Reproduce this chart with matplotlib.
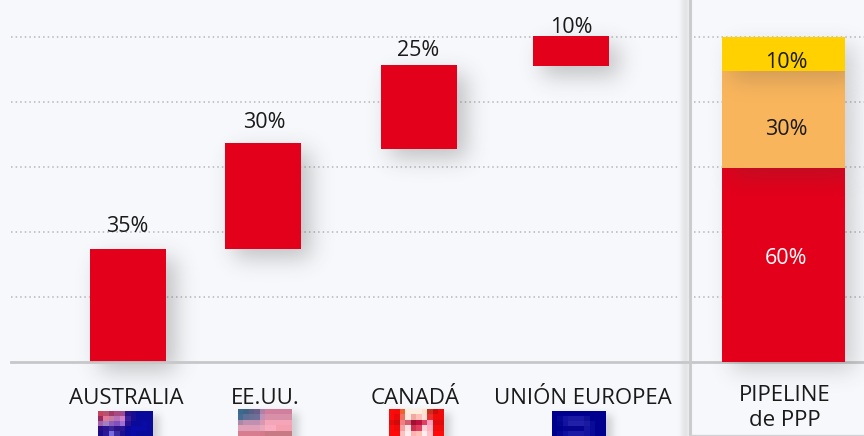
import math
import numpy as np
import matplotlib
matplotlib.use('Agg')
import matplotlib.pyplot as plt

plt.rcParams['font.family'] = ['Open Sans', 'DejaVu Sans']

# valores en % (escala 0-100 del grafico)
categories = ['AUSTRALIA', 'EE.UU.', 'CANADÁ', 'UNIÓN EUROPEA']
bar_labels = ['35%', '30%', '25%', '10%']
bar_bottom = [0, 34.6, 65.5, 91]
bar_top = [34.6, 67.2, 91.3, 100.4]
bar_x = [128, 263, 419, 571]
label_x = [126, 265, 415, 583]
pct_x = [127, 264, 418, 571]
pct_level = [41.6, 73.8, 95.8, 103]

ppp_values = [59.5, 30, 10.4]
ppp_labels = ['60%', '30%', '10%']
ppp_level = [31.6, 71.5, 92.1]
ppp_colors = ['#e3001b', '#f9b55c', '#ffd100']
ppp_text = ['white', '#1a1a1a', '#1a1a1a']
grid_levels = [20, 40, 60, 80, 100]

BG = '#f7f8fb'
RED = '#e3001b'
PX = 3.245  # px por punto de %
ZERO = 361.5

# banderas pixeladas, cortadas por el borde inferior
b = '#0a0a9a'
flag_aus = [['#c8445e', '#b8506e', '#a03a6a', '#a84a80', '#a04a90', '#2a1088', '#1a0c92', b, b, b],
            ['#9a2a5e', '#e07a98', '#c97aa0', '#b870b8', '#d080c8', '#3a2098', '#1a0c92', b, b, b],
            ['#a060b0', '#a080c0', '#8a60b8', '#8050c0', '#9a70d0', '#2a1090', b, b, '#0a0aa8', b],
            ['#2a0c80', '#2a1490', '#3a2498', '#2a1488', '#2a1490', b, '#0a0aa8', '#0a0aa8', '#0a0aa8', b],
            ['#1a0c88', '#2a1a98', '#7a6ae0', '#3a2ca0', '#1a1090', b, '#0a0aa8', b, b, b]]
flag_usa = [['#3a6a90', '#3f6488', '#5a5f8a', '#6a5f8a', '#b080a8', '#d0809c', '#d0809c', '#d0809c', '#d0809c', '#d0809c'],
            ['#456c92', '#5f6f95', '#6a6f98', '#6f7098', '#c090b8', '#d890a8', '#d890a8', '#d890a8', '#d890a8', '#d890a8'],
            ['#a88aa8', '#c090b0', '#c090b0', '#c090b0', '#d898b0', '#f4a6b8', '#f4a6b8', '#f4a6b8', '#f4a6b8', '#f4a6b8'],
            ['#e0a0b8', '#e0a0b8', '#e0a0b8', '#e0a0b8', '#e8a8bc', '#f8aec0', '#f8aec0', '#f4a0b0', '#f4a0b0', '#f4a0b0'],
            ['#d87c90', '#d87c90', '#d87c90', '#d87c90', '#d47a88', '#c87a84', '#c87a84', '#c87a84', '#c87a84', '#c87a84']]
flag_can = [['#ff0a0a', '#f80a0a', '#f06030', '#ffeedd', '#ffeedd', '#ffeedd', '#ffe4cc', '#c83020', '#d00a0a', '#f00a0a'],
            ['#ff0a0a', '#e80a0a', '#f07060', '#ffe8e0', '#f0a8a0', '#ffc0b8', '#ffe0d8', '#e83030', '#f00a0a', '#f00a0a'],
            ['#e80a0a', '#d00a0a', '#f08080', '#d06070', '#a01030', '#c01040', '#e04060', '#f8a0c0', '#e00a0a', '#e00a0a'],
            ['#ff0a0a', '#f00a0a', '#f8a0a0', '#ffe0e0', '#d03050', '#e04060', '#ffd0d8', '#ffb0c0', '#f00a0a', '#f00a0a'],
            ['#ff0a0a', '#ff0a0a', '#ffc0c0', '#ffeef0', '#ffb0b0', '#ffc0b8', '#ffeef0', '#ffc0c8', '#ff0a0a', '#ff0a0a']]
d = '#00008f'
flag_eu = [[d, d, d, d, d, d, d, d, d, d],
           [d, '#080896', '#1414a0', '#1a1aa4', '#1a1aa4', '#1a1aa4', '#101098', d, d, d],
           [d, '#04048f', '#1212a0', '#2020a8', '#2020a8', '#2020a8', '#1a1aa0', '#0a0a98', d, d],
           [d, d, '#040490', '#04048f', '#04048f', '#04048f', '#1414a0', '#0a0a98', d, d],
           [d, '#060692', '#1010a0', '#1a1aa4', '#1a1aa4', '#1a1aa4', '#1414a0', '#0a0a98', d, d]]
flags = [flag_aus, flag_usa, flag_can, flag_eu]
flag_box = [(98, 153, 412), (238, 292, 410), (389, 444, 410), (552, 606, 412)]

erf = np.vectorize(math.erf)


def y_val(px):
    return (ZERO - px) / PX


def shadow(ax, x0, x1, y0, y1, z, dx=9, dy=9, s=11, alpha=0.3):
    # sombra difusa de un rectangulo, todo en px
    xs = np.arange(x0 - 40, x1 + 60)
    ys = np.arange(y0 - 40, y1 + 60)
    fx = 0.5 * (erf((xs - x0 - dx) / (s * 1.41)) - erf((xs - x1 - dx) / (s * 1.41)))
    fy = 0.5 * (erf((ys - y0 - dy) / (s * 1.41)) - erf((ys - y1 - dy) / (s * 1.41)))
    a = np.outer(fy, fx) * alpha
    img = np.zeros(a.shape + (4,))
    img[..., :3] = 0.25
    img[..., 3] = a
    ax.imshow(img, extent=(xs[0], xs[-1] + 1, y_val(ys[-1] + 1), y_val(ys[0])),
              aspect='auto', zorder=z, interpolation='bilinear')


fig = plt.figure(figsize=(8.64, 4.36), dpi=100, facecolor=BG)
ax = fig.add_axes([0, 0, 1, 1], facecolor=BG)

# rejilla
for lv in grid_levels:
    ax.plot([11, 680], [lv, lv], color='#b5b7ba', lw=1.1, ls=(0, (1, 2)), zorder=1)
    ax.plot([694, 864], [lv, lv], color='#b5b7ba', lw=1.1, ls=(0, (1, 2)), zorder=1)

# barras escalonadas
for i in range(len(categories)):
    px_top = ZERO - bar_top[i] * PX
    px_bot = ZERO - bar_bottom[i] * PX
    shadow(ax, bar_x[i] - 38, bar_x[i] + 38, px_top, px_bot, 2)
    ax.bar(bar_x[i], bar_top[i] - bar_bottom[i], 76, bottom=bar_bottom[i], color=RED, zorder=3)
    ax.text(pct_x[i], pct_level[i], bar_labels[i], ha='center', va='center',
            fontsize=15.5, color='#1a1a1a', zorder=6)
    ax.text(label_x[i], y_val(398), categories[i], ha='center', va='center',
            fontsize=16, color='#1a1a1a', zorder=6)

# columna apilada PPP
base = 0
for i in range(len(ppp_values)):
    top = base + ppp_values[i]
    shadow(ax, 722, 845, ZERO - top * PX, ZERO - base * PX, 4 + i * 0.1, alpha=0.22)
    ax.bar(783.5, ppp_values[i], 123, bottom=base, color=ppp_colors[i], zorder=4.05 + i * 0.1)
    ax.text(786, ppp_level[i], ppp_labels[i], ha='center', va='center',
            fontsize=15.5, color=ppp_text[i], zorder=6)
    base = top
ax.text(785, y_val(408), 'PIPELINE\nde PPP', ha='center', va='center', linespacing=1.2,
        fontsize=16, color='#1a1a1a', zorder=6)

# separador del panel y base
shadow(ax, 686, 690, -40, 480, 1.5, dx=-3, dy=0, s=3, alpha=0.22)
ax.plot([690, 690], [y_val(0), y_val(436)], color='#c9cacc', lw=2, zorder=5)
ax.plot([11, 864], [0, 0], color='#c6c7c9', lw=2, zorder=3.5)
ax.plot([690, 864], [y_val(434.5), y_val(434.5)], color='#d0d1d3', lw=1, zorder=5)

# banderas
for f, (x0, x1, y0) in zip(flags, flag_box):
    shadow(ax, x0, x1, y0, 460, 2, dx=6, dy=3, s=4, alpha=0.22)
    arr = matplotlib.colors.to_rgba_array(np.array(f).ravel()).reshape(len(f), len(f[0]), 4)
    ax.imshow(arr, extent=(x0, x1, y_val(436), y_val(y0)), aspect='auto', zorder=3, interpolation='nearest')

ax.set_xlim(0, 864)
ax.set_ylim(y_val(436), y_val(0))
ax.axis('off')
fig.savefig('out.png', dpi=100, facecolor=BG)
